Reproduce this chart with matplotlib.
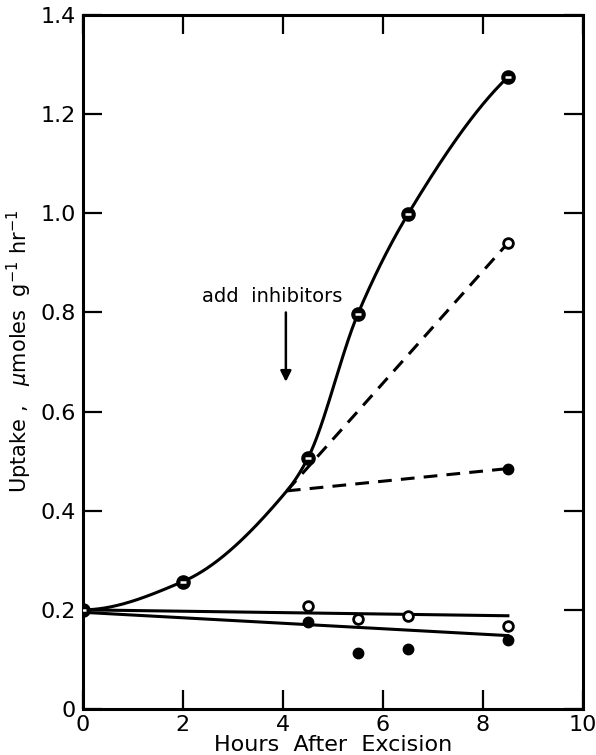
import numpy as np
import matplotlib
matplotlib.use("Agg")
import matplotlib.pyplot as plt

# ---- data ----
main_x = [0, 2, 4.5, 5.5, 6.5, 8.5]
main_y = [0.20, 0.257, 0.506, 0.797, 0.998, 1.275]

branch_x = 4.08
branch_y = 0.44
dash_open_end = (8.5, 0.94)
dash_filled_end = (8.5, 0.485)

open_x = [0, 4.5, 5.5, 6.5, 8.5]
open_y = [0.20, 0.208, 0.182, 0.188, 0.168]
open_line_x = [0, 8.5]
open_line_y = [0.200, 0.188]

filled_x = [4.5, 5.5, 6.5, 8.5]
filled_y = [0.175, 0.112, 0.120, 0.140]
filled_line_x = [0, 8.5]
filled_line_y = [0.195, 0.148]

x_ticks = [0, 2, 4, 6, 8, 10]
y_ticks = [0, 0.2, 0.4, 0.6, 0.8, 1.0, 1.2, 1.4]
y_ticklabels = ["0", "0.2", "0.4", "0.6", "0.8", "1.0", "1.2", "1.4"]


def pchip(x, y, xs):
    x = np.asarray(x, float); y = np.asarray(y, float)
    h = np.diff(x); d = np.diff(y) / h
    n = len(x)
    m = np.zeros(n)
    for k in range(1, n - 1):
        if d[k - 1] * d[k] > 0:
            w1 = 2 * h[k] + h[k - 1]
            w2 = h[k] + 2 * h[k - 1]
            m[k] = (w1 + w2) / (w1 / d[k - 1] + w2 / d[k])
    m[0] = ((2 * h[0] + h[1]) * d[0] - h[0] * d[1]) / (h[0] + h[1])
    if np.sign(m[0]) != np.sign(d[0]):
        m[0] = 0
    m[-1] = ((2 * h[-1] + h[-2]) * d[-1] - h[-1] * d[-2]) / (h[-1] + h[-2])
    if np.sign(m[-1]) != np.sign(d[-1]):
        m[-1] = 0
    out = np.empty_like(xs)
    for i, xv in enumerate(xs):
        k = min(max(np.searchsorted(x, xv) - 1, 0), n - 2)
        t = (xv - x[k]) / h[k]
        h00 = 2 * t**3 - 3 * t**2 + 1
        h10 = t**3 - 2 * t**2 + t
        h01 = -2 * t**3 + 3 * t**2
        h11 = t**3 - t**2
        out[i] = h00 * y[k] + h10 * h[k] * m[k] + h01 * y[k + 1] + h11 * h[k] * m[k + 1]
    return out


plt.rcParams['font.family'] = ['DejaVu Sans']
fig = plt.figure(figsize=(5.96, 7.55), dpi=100)
ax = fig.add_axes([0.139, 0.061, 0.839, 0.919])

lw = 2.2
# the curve also passes through the point where the inhibitor branches start
pairs = sorted(zip(main_x + [branch_x], main_y + [branch_y]))
knot_x = [p[0] for p in pairs]
knot_y = [p[1] for p in pairs]
xs = np.linspace(main_x[0], main_x[-1], 600)
ax.plot(xs, pchip(knot_x, knot_y, xs), color='black', lw=lw, zorder=2)
ax.plot(main_x, main_y, 'o', ms=9, mfc='black', mec='black', mew=1.5, ls='none', zorder=4)
ax.plot(main_x, main_y, '_', ms=4.5, mec='white', mew=1.8, ls='none', zorder=5)

ax.plot([branch_x, dash_open_end[0]], [branch_y, dash_open_end[1]], color='black',
        lw=lw, dashes=(4.5, 3), zorder=2)
ax.plot([branch_x, dash_filled_end[0]], [branch_y, dash_filled_end[1]], color='black',
        lw=lw, dashes=(4.5, 3), zorder=2)
ax.plot([dash_open_end[0]], [dash_open_end[1]], 'o', ms=7, mfc='white', mec='black', mew=2, zorder=4)
ax.plot([dash_filled_end[0]], [dash_filled_end[1]], 'o', ms=7.5, mfc='black', mec='black', zorder=4)

ax.plot(open_line_x, open_line_y, color='black', lw=lw, zorder=2)
ax.plot(filled_line_x, filled_line_y, color='black', lw=lw, zorder=2)
ax.plot(open_x[1:], open_y[1:], 'o', ms=7, mfc='white', mec='black', mew=2, ls='none', zorder=4)
ax.plot(filled_x, filled_y, 'o', ms=7.5, mfc='black', mec='black', ls='none', zorder=4)

ax.annotate('', xy=(4.06, 0.66), xytext=(4.06, 0.80),
            arrowprops=dict(arrowstyle='-|>', color='black', lw=1.8,
                            mutation_scale=16, shrinkA=0, shrinkB=0))
ax.text(3.78, 0.833, 'add  inhibitors', ha='center', va='center', fontsize=14)

ax.set_xlim(0, 10)
ax.set_ylim(0, 1.4)
ax.set_xticks(x_ticks)
ax.set_yticks(y_ticks)
ax.set_yticklabels(y_ticklabels)
ax.tick_params(direction='in', length=14, width=1.6, labelsize=16, top=True, right=True)
ax.tick_params(axis='x', pad=4)
ax.tick_params(axis='y', pad=5)
for s in ax.spines.values():
    s.set_linewidth(2.2)

ax.set_xlabel('Hours  After  Excision', fontsize=16, labelpad=0)
ax.set_ylabel(r'Uptake ,   $\mu$moles  g$^{-1}$ hr$^{-1}$', fontsize=15)
ax.yaxis.set_label_coords(-0.098, 0.516)

fig.savefig('out.png', dpi=100)
